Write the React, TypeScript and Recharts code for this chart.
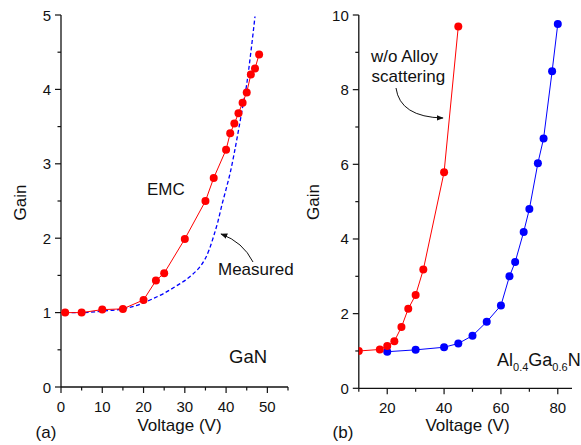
import React from "react";
import { LineChart, Line, XAxis, YAxis } from "recharts";

// panel (a): GaN
const emcVoltage = [1, 5, 10, 15, 20, 23, 25, 30, 35, 37, 40, 41, 42, 43, 44, 45, 46, 47, 48];
const emcGain = [1.0, 1.0, 1.04, 1.05, 1.17, 1.43, 1.53, 1.99, 2.5, 2.81, 3.19, 3.41, 3.54, 3.68, 3.82, 3.96, 4.2, 4.28, 4.47];
const measVoltage = [1, 5, 10, 15, 20, 22, 25, 28, 30, 32, 34, 35, 36, 37, 38, 39, 40, 41, 42, 43, 44, 45, 46, 47];
const measGain = [1.0, 1.0, 1.02, 1.05, 1.13, 1.18, 1.26, 1.36, 1.43, 1.52, 1.64, 1.73, 1.86, 2.03, 2.22, 2.45, 2.66, 2.88, 3.15, 3.45, 3.76, 4.07, 4.5, 4.98];

// panel (b): AlGaN
const noAlloyVoltage = [10, 17.4, 20, 22.5, 25, 27.4, 30, 32.7, 40, 45];
const noAlloyGain = [1.0, 1.04, 1.13, 1.26, 1.64, 2.13, 2.5, 3.18, 5.79, 9.69];
const alganVoltage = [20, 30, 40, 45, 50, 55, 60, 63, 65, 68, 70, 73, 75, 78, 80];
const alganGain = [0.98, 1.03, 1.1, 1.2, 1.41, 1.78, 2.22, 3.0, 3.38, 4.19, 4.8, 6.03, 6.69, 8.49, 9.76];

const xTicksA = [0, 5, 10, 15, 20, 25, 30, 35, 40, 45, 50, 55];
const xMajorA = [0, 10, 20, 30, 40, 50];
const yTicksA = [0, 0.5, 1, 1.5, 2, 2.5, 3, 3.5, 4, 4.5, 5];
const yMajorA = [0, 1, 2, 3, 4, 5];
const xTicksB = [10, 20, 30, 40, 50, 60, 70, 80];
const xMajorB = [20, 40, 60, 80];
const yTicksB = [0, 1, 2, 3, 4, 5, 6, 7, 8, 9, 10];
const yMajorB = [0, 2, 4, 6, 8, 10];

const zip = (xs: number[], ys: number[]) => xs.map((x, i) => ({ x, y: ys[i] }));

const FONT = "'Liberation Sans', Arial, sans-serif";
const INK = "#111";

const xTick = (majors: number[]) => (props: any) => {
  const { x, y, payload } = props;
  const major = majors.includes(payload.value);
  return (
    <g>
      <line x1={x} y1={y} x2={x} y2={y + (major ? 6 : 3.5)} stroke={INK} strokeWidth={1.2} />
      {major && (
        <text x={x} y={y + 24.5} textAnchor="middle" fontSize={15} fill={INK} fontFamily={FONT}>
          {payload.value}
        </text>
      )}
    </g>
  );
};

const yTick = (majors: number[]) => (props: any) => {
  const { x, y, payload } = props;
  const major = majors.includes(payload.value);
  return (
    <g>
      <line x1={x} y1={y} x2={x - (major ? 6 : 3.5)} y2={y} stroke={INK} strokeWidth={1.2} />
      {major && (
        <text x={x - 10} y={y + 5.5} textAnchor="end" fontSize={15} fill={INK} fontFamily={FONT}>
          {payload.value}
        </text>
      )}
    </g>
  );
};

const axisLine = { stroke: INK, strokeWidth: 1.3 };

export default function App() {
  return (
    <div style={{ position: "absolute", left: 0, top: 0, width: 581, height: 445, background: "#fff", fontFamily: FONT }}>
      <div style={{ position: "absolute", left: 0, top: 0 }}>
        <LineChart width={295} height={445} margin={{ top: 15, right: 7, bottom: 0, left: 0 }}>
          <XAxis
            type="number"
            dataKey="x"
            domain={[0, 55]}
            ticks={xTicksA}
            interval={0}
            height={58}
            tickSize={0}
            tickMargin={0}
            tickLine={false}
            axisLine={axisLine}
            tick={xTick(xMajorA)}
            allowDataOverflow
          />
          <YAxis
            type="number"
            dataKey="y"
            domain={[0, 5]}
            ticks={yTicksA}
            interval={0}
            width={61}
            tickSize={0}
            tickMargin={0}
            tickLine={false}
            axisLine={axisLine}
            tick={yTick(yMajorA)}
            allowDataOverflow
          />
          <Line
            data={zip(measVoltage, measGain)}
            dataKey="y"
            type="monotone"
            stroke="#0000ff"
            strokeWidth={1.3}
            strokeDasharray="4 2.5"
            dot={false}
            isAnimationActive={false}
          />
          <Line
            data={zip(emcVoltage, emcGain)}
            dataKey="y"
            type="linear"
            stroke="#ff0000"
            strokeWidth={1}
            dot={{ r: 4, fill: "#ff0000", stroke: "none" }}
            isAnimationActive={false}
          />
        </LineChart>
      </div>
      <div style={{ position: "absolute", left: 298, top: 0 }}>
        <LineChart width={283} height={445} margin={{ top: 15, right: 9, bottom: 0, left: 0 }}>
          <XAxis
            type="number"
            dataKey="x"
            domain={[10, 85]}
            ticks={xTicksB}
            interval={0}
            height={56.7}
            tickSize={0}
            tickMargin={0}
            tickLine={false}
            axisLine={axisLine}
            tick={xTick(xMajorB)}
            allowDataOverflow
          />
          <YAxis
            type="number"
            dataKey="y"
            domain={[0, 10]}
            ticks={yTicksB}
            interval={0}
            width={60.8}
            tickSize={0}
            tickMargin={0}
            tickLine={false}
            axisLine={axisLine}
            tick={yTick(yMajorB)}
            allowDataOverflow
          />
          <Line
            data={zip(alganVoltage, alganGain)}
            dataKey="y"
            type="linear"
            stroke="#0000ff"
            strokeWidth={1}
            dot={{ r: 4, fill: "#0000ff", stroke: "none" }}
            isAnimationActive={false}
          />
          <Line
            data={zip(noAlloyVoltage, noAlloyGain)}
            dataKey="y"
            type="linear"
            stroke="#ff0000"
            strokeWidth={1}
            dot={{ r: 4, fill: "#ff0000", stroke: "none" }}
            isAnimationActive={false}
          />
        </LineChart>
      </div>
      <svg
        width={581}
        height={445}
        style={{ position: "absolute", left: 0, top: 0, pointerEvents: "none" }}
        fontFamily={FONT}
        fill={INK}
      >
        <defs>
          <marker id="head" viewBox="0 0 10 10" refX="9" refY="5" markerWidth="7" markerHeight="7" orient="auto">
            <path d="M0,1 L10,5 L0,9 z" fill={INK} />
          </marker>
        </defs>
        {/* axis titles */}
        <text x={179.5} y={431} textAnchor="middle" fontSize={17}>Voltage (V)</text>
        <text x={467.5} y={431} textAnchor="middle" fontSize={17}>Voltage (V)</text>
        <text transform="translate(25.5,202.5) rotate(-90)" textAnchor="middle" fontSize={17}>Gain</text>
        <text transform="translate(319,202) rotate(-90)" textAnchor="middle" fontSize={17}>Gain</text>
        <text x={46} y={438} textAnchor="middle" fontSize={17}>(a)</text>
        <text x={343} y={438} textAnchor="middle" fontSize={17}>(b)</text>
        {/* panel (a) annotations */}
        <text x={147} y={195} fontSize={17}>EMC</text>
        <text x={218} y={275} fontSize={17}>Measured</text>
        <path d="M253,262 Q243,242 221,234" fill="none" stroke={INK} strokeWidth={1} markerEnd="url(#head)" />
        <text x={229} y={363} fontSize={18.5}>GaN</text>
        {/* panel (b) annotations */}
        <text x={371} y={62} fontSize={17}>w/o Alloy</text>
        <text x={371.5} y={82} fontSize={17}>scattering</text>
        <path d="M396,88 Q400,117 443,118" fill="none" stroke={INK} strokeWidth={1} markerEnd="url(#head)" />
        <text x={497} y={366} fontSize={18}>
          Al<tspan fontSize={11} dy={5}>0.4</tspan>
          <tspan fontSize={18} dy={-5}>Ga</tspan>
          <tspan fontSize={11} dy={5}>0.6</tspan>
          <tspan fontSize={18} dy={-5}>N</tspan>
        </text>
      </svg>
    </div>
  );
}
